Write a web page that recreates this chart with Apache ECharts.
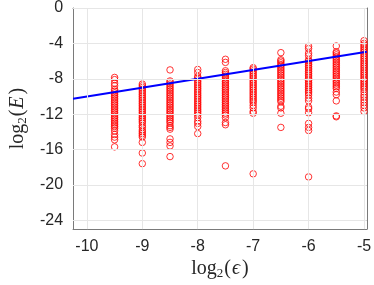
<!DOCTYPE html>
<html><head><meta charset="utf-8">
<script src="https://cdn.jsdelivr.net/npm/echarts@6/dist/echarts.min.js"></script>
<style>html,body{margin:0;padding:0;background:#fff}#c{width:374px;height:285px}</style>
</head><body><div id="c"></div>
<script>
const xCols = [-9.5, -9, -8.5, -8, -7.5, -7, -6.5, -6, -5.5, -5];
const col_m9_5 = [-7.85,-8.1,-8.5,-8.8,-9.2,-9.4,-9.6,-9.8,-10.0,-10.2,-10.4,-10.6,-10.8,-11.0,-11.2,-11.4,-11.6,-11.8,-12.0,-12.2,-12.4,-12.6,-12.8,-13.0,-13.2,-13.4,-13.6,-13.9,-14.3,-14.6,-14.9,-15.7];
const col_m9 = [-8.6,-8.8,-9.0,-9.2,-9.4,-9.6,-9.8,-10.0,-10.2,-10.4,-10.6,-10.8,-11.0,-11.2,-11.4,-11.6,-11.8,-12.0,-12.2,-12.4,-12.6,-12.8,-13.0,-13.3,-13.5,-13.8,-14.0,-14.2,-14.4,-14.6,-15.2,-16.4,-17.6];
const col_m8_5 = [-7.0,-8.25,-8.4,-8.6,-8.8,-9.0,-9.2,-9.4,-9.6,-9.8,-10.0,-10.2,-10.4,-10.6,-10.8,-11.0,-11.2,-11.4,-11.6,-11.8,-12.0,-12.2,-12.4,-12.6,-12.8,-13.0,-13.3,-13.5,-13.7,-14.8,-15.2,-15.6,-16.8];
const col_m8 = [-6.95,-7.3,-7.75,-7.9,-8.1,-8.3,-8.5,-8.7,-8.9,-9.1,-9.3,-9.5,-9.7,-9.9,-10.1,-10.3,-10.5,-10.7,-10.9,-11.1,-11.3,-11.5,-11.7,-11.9,-12.1,-12.4,-12.8,-13.05,-13.4,-14.2];
const col_m7_5 = [-5.8,-6.15,-7.1,-7.3,-7.5,-7.7,-7.9,-8.1,-8.3,-8.5,-8.7,-8.9,-9.1,-9.3,-9.5,-9.7,-9.9,-10.1,-10.3,-10.5,-10.7,-10.9,-11.1,-11.3,-11.5,-11.7,-11.9,-12.1,-12.4,-12.95,-13.2,-17.85];
const col_m7 = [-6.75,-6.9,-7.1,-7.3,-7.5,-7.7,-7.9,-8.1,-8.3,-8.5,-8.7,-8.9,-9.1,-9.3,-9.5,-9.7,-9.9,-10.1,-10.3,-10.5,-10.7,-11.0,-11.3,-11.7,-11.9,-18.75];
const col_m6_5 = [-5.05,-5.85,-6.0,-6.2,-6.4,-6.6,-6.8,-7.0,-7.2,-7.4,-7.6,-7.8,-8.0,-8.2,-8.4,-8.6,-8.8,-9.0,-9.2,-9.4,-9.6,-9.8,-10.0,-10.2,-10.4,-10.6,-11.1,-11.3,-11.9,-13.5];
const col_m6 = [-4.33,-4.6,-5.1,-5.4,-5.85,-6.0,-6.2,-6.4,-6.6,-6.8,-7.0,-7.2,-7.4,-7.6,-7.8,-8.0,-8.2,-8.4,-8.6,-8.8,-9.0,-9.2,-9.4,-9.6,-9.85,-10.2,-10.5,-11.2,-11.4,-11.85,-13.05,-13.5,-13.85,-19.1];
const col_m5_5 = [-4.3,-4.95,-5.1,-5.3,-5.5,-5.7,-5.9,-6.1,-6.3,-6.5,-6.7,-6.9,-7.1,-7.3,-7.5,-7.7,-7.9,-8.1,-8.3,-8.5,-8.7,-8.9,-9.1,-9.5,-9.8,-10.5,-12.2,-12.3];
const col_m5 = [-3.7,-4.0,-4.2,-4.4,-4.6,-4.8,-5.0,-5.2,-5.4,-5.6,-5.8,-6.0,-6.2,-6.4,-6.6,-6.8,-7.0,-7.2,-7.4,-7.6,-7.8,-8.0,-8.2,-8.4,-8.6,-8.8,-9.0,-9.2,-9.5,-9.85,-10.1,-10.4,-10.7,-11.0,-11.3,-11.7];
const colValues = [col_m9_5, col_m9, col_m8_5, col_m8, col_m7_5, col_m7, col_m6_5, col_m6, col_m5_5, col_m5];
const lineX = [-10.25, -4.95];
const lineY = [-10.25, -4.95];
const xTicks = [-10, -9, -8, -7, -6, -5];
const yTicks = [0, -4, -8, -12, -16, -20, -24];

const scatterData = [];
xCols.forEach((x, i) => colValues[i].forEach(v => scatterData.push([x, v])));

const chart = echarts.init(document.getElementById('c'), null, {renderer: 'canvas'});
const axisCol = '#7a7a7a';
const labelCol = '#262626';
const gridCol = '#e6e6e6';
const nameRich = {
  a: {fontFamily: 'Liberation Serif', fontSize: 20, color: labelCol},
  s: {fontFamily: 'Liberation Serif', fontSize: 13, color: labelCol, padding: [9, 1, 0, 0]},
  i: {fontFamily: 'Liberation Serif', fontSize: 20, fontStyle: 'italic', color: labelCol, padding: [0, 2, 0, 1]}
};
const baseX = {
  type: 'value', min: -10.25, max: -4.95,
  axisLine: {show: true, onZero: false, lineStyle: {color: axisCol, width: 1}},
  axisTick: {show: true, inside: true, length: 4, lineStyle: {color: axisCol}, customValues: xTicks},
  splitLine: {show: false}
};
const baseY = {
  type: 'value', min: -25, max: 0,
  axisLine: {show: true, onZero: false, lineStyle: {color: axisCol, width: 1}},
  axisTick: {show: true, inside: true, length: 4, lineStyle: {color: axisCol}, customValues: yTicks},
  splitLine: {show: false}
};
chart.setOption({
  animation: false,
  grid: {left: 60, right: 4, top: 6, bottom: 49, containLabel: false},
  xAxis: [
    Object.assign({}, baseX, {
      position: 'bottom',
      axisLabel: {show: true, color: labelCol, fontFamily: 'Liberation Sans', fontSize: 16, margin: 9,
        customValues: xTicks},
      name: '{a|log}{s|2}{a|(}{i|ϵ}{a|)}', nameLocation: 'middle', nameGap: 24,
      nameTextStyle: {rich: nameRich}
    }),
    Object.assign({}, baseX, {position: 'top', axisLabel: {show: false}})
  ],
  yAxis: [
    Object.assign({}, baseY, {
      position: 'left',
      axisLabel: {show: true, color: labelCol, fontFamily: 'Liberation Sans', fontSize: 16, margin: 10,
        customValues: yTicks},
      name: '{a|log}{s|2}{a|(}{i|E}{a|)}', nameLocation: 'middle', nameGap: 43,
      nameTextStyle: {rich: nameRich}
    }),
    Object.assign({}, baseY, {position: 'right', axisLabel: {show: false}})
  ],
  series: [
    {
      type: 'scatter', xAxisIndex: 0, yAxisIndex: 0, data: [],
      silent: true, z: 1,
      markLine: {
        silent: true, symbol: 'none', label: {show: false},
        lineStyle: {color: gridCol, width: 1, type: 'solid'},
        data: xTicks.map(v => ({xAxis: v})).concat(yTicks.map(v => ({yAxis: v})))
      }
    },
    {
      type: 'scatter', xAxisIndex: 0, yAxisIndex: 0, data: scatterData,
      symbol: 'circle', symbolSize: 6.5,
      itemStyle: {color: 'rgba(0,0,0,0)', borderColor: '#ff0000', borderWidth: 1},
      z: 2
    },
    {
      type: 'line', xAxisIndex: 0, yAxisIndex: 0,
      data: lineX.map((x, i) => [x, lineY[i]]),
      symbol: 'none', lineStyle: {color: '#0000ff', width: 2}, z: 3
    }
  ]
});
</script></body></html>
